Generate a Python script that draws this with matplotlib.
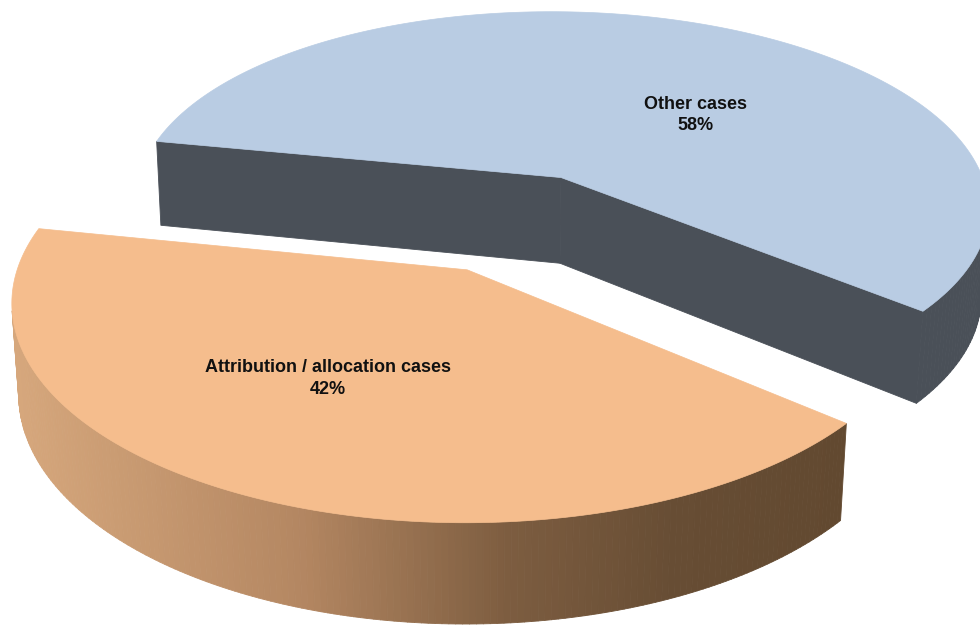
import numpy as np
import matplotlib
matplotlib.use('Agg')
import matplotlib.pyplot as plt
from matplotlib.patches import Polygon
from matplotlib.collections import PolyCollection

# data
labels = ['Attribution / allocation cases', 'Other cases']
shares = [42, 58]

top_colors = ['#F5BD8D', '#B9CCE3']
side_color = '#4A5058'
# orange side wall shading, left -> right
wall_stops = [0, 0.35, 0.6, 0.8, 1]
wall_rgb = [(215, 168, 125), (180, 135, 98), (125, 93, 64), (103, 77, 52), (98, 73, 48)]

# 3d view (perspective camera)
elev = 23.1          # degrees
cam_dist = 8.148
focal = 2790.3
cam_x = -0.947
x0, y0 = 479.6, 8.3
thick = 0.23
start = 168.65       # start angle of the first slice, degrees
shift = 1.989        # pie centre offset along first slice mid direction
explode = 0.254
label_pos = [(-121.4, 0.55), (45.3, 0.49)]   # (angle, radius) on each slice top

a = np.radians(elev)
cam = np.array([cam_x, -cam_dist*np.cos(a), cam_dist*np.sin(a)])

def proj(X, Y, Z):
    w = cam_dist + Y*np.cos(a) - Z*np.sin(a)
    return x0 + focal*(X - cam_x)/w, y0 - focal*(Y*np.sin(a) + Z*np.cos(a))/w

def orange_wall(x):
    u = np.clip((x - 10)/830, 0, 1)
    return tuple(np.interp(u, wall_stops, [c[j] for c in wall_rgb])/255 for j in range(3))

fig = plt.figure(figsize=(9.8, 6.26), dpi=100)
ax = fig.add_axes([0, 0, 1, 1])
ax.set_xlim(0, 980)
ax.set_ylim(626, 0)
ax.axis('off')

# slice angles from shares
fr = np.array(shares)/np.sum(shares)
edges = np.radians(start + 360*np.r_[0, np.cumsum(fr)])
mid0 = (edges[0] + edges[1])/2
u = np.array([np.cos(mid0), np.sin(mid0)])
centres = [(shift + explode)*u, (shift - explode)*u]

def draw(C, th0, th1, top, wallcol):
    th = np.linspace(th0, th1, 200)
    polys, cols = [], []
    # outer wall, only faces turned to the camera
    for i in range(len(th) - 1):
        m = (th[i] + th[i+1])/2
        n = np.array([np.cos(m), np.sin(m), 0])
        P = np.array([C[0] + np.cos(m), C[1] + np.sin(m), thick/2])
        if n @ (P - cam) < 0:
            tt = np.array([th[i], th[i+1], th[i+1], th[i]])
            xs, ys = proj(C[0] + np.cos(tt), C[1] + np.sin(tt), np.array([thick, thick, 0, 0]))
            polys.append(np.c_[xs, ys])
            cols.append(wallcol(xs.mean()))
    # cut faces
    for ang, nrm in [(th0, np.array([np.sin(th0), -np.cos(th0), 0])),
                     (th1, np.array([-np.sin(th1), np.cos(th1), 0]))]:
        P = np.array([C[0] + 0.5*np.cos(ang), C[1] + 0.5*np.sin(ang), thick/2])
        if nrm @ (P - cam) < 0:
            X = C[0] + np.array([0, np.cos(ang), np.cos(ang), 0])
            Y = C[1] + np.array([0, np.sin(ang), np.sin(ang), 0])
            xs, ys = proj(X, Y, np.array([thick, thick, 0, 0]))
            polys.append(np.c_[xs, ys])
            cols.append(wallcol(xs.mean()))
    ax.add_collection(PolyCollection(polys, facecolors=cols, edgecolors=cols, linewidths=0.6))
    xs, ys = proj(np.r_[C[0], C[0] + np.cos(th)], np.r_[C[1], C[1] + np.sin(th)], thick)
    ax.add_patch(Polygon(np.c_[xs, ys], closed=True, fc=top, ec=top, lw=0.5))

# back slice first, then the front one
draw(centres[1], edges[1], edges[2], top_colors[1], lambda x: side_color)
draw(centres[0], edges[0], edges[1], top_colors[0], orange_wall)

for i in range(2):
    ang, r = label_pos[i]
    lx, ly = proj(centres[i][0] + r*np.cos(np.radians(ang)),
                  centres[i][1] + r*np.sin(np.radians(ang)), thick)
    ax.text(lx, ly, '%s\n%d%%' % (labels[i], shares[i]), ha='center', va='center',
            fontsize=13, fontweight='bold', linespacing=1.35, color='#111111',
            family=['Liberation Sans', 'DejaVu Sans'])

fig.savefig('out.png')
